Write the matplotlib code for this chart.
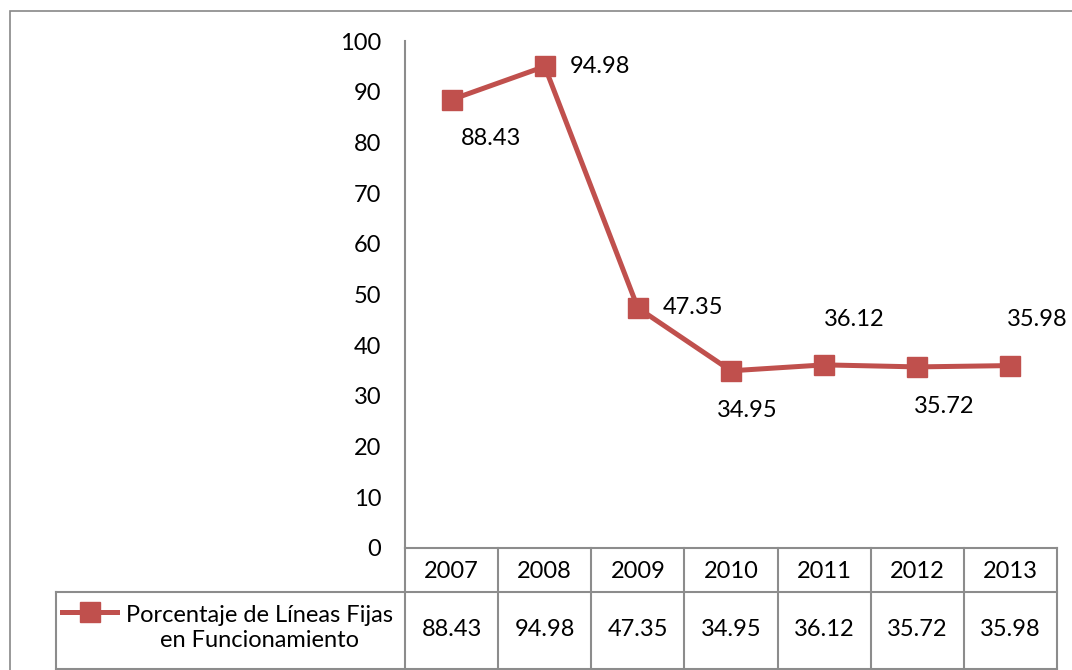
import matplotlib
matplotlib.use("Agg")
import matplotlib.pyplot as plt
from matplotlib.patches import Rectangle
from matplotlib.lines import Line2D

years = ["2007", "2008", "2009", "2010", "2011", "2012", "2013"]
porcentaje = [88.43, 94.98, 47.35, 34.95, 36.12, 35.72, 35.98]
serie = "Porcentaje de Líneas Fijas\nen Funcionamiento"
yticks = [0, 10, 20, 30, 40, 50, 60, 70, 80, 90, 100]

RED = "#C0504D"
GRID = "#8C8C8C"
W, H = 1072, 670
FS = 17

plt.rcParams["font.family"] = ["Lato", "DejaVu Sans"]

def box(l, t, r, b):
    return [l / W, 1 - b / H, (r - l) / W, (b - t) / H]

fig = plt.figure(figsize=(W / 100, H / 100), dpi=100)

# outer chart frame (cropped on right/bottom)
fig.patches.append(Rectangle((10 / W, -0.05), 1.1, 1 - 11 / H + 0.05, transform=fig.transFigure,
                             fill=False, edgecolor="#888888", lw=1.2))

ax = fig.add_axes(box(405, 41, 1057, 548))
x = list(range(len(years)))
ax.plot(x, porcentaje, color=RED, lw=3.6, marker="s", ms=14.5, mec=RED, mfc=RED, zorder=3)
ax.set_xlim(-0.5, len(years) - 0.5)
ax.set_ylim(0, 100)
ax.set_yticks(yticks)
ax.tick_params(axis="y", length=0, pad=17, labelsize=FS)
ax.tick_params(axis="x", length=0, labelbottom=False)
for s in ["top", "right", "bottom"]:
    ax.spines[s].set_visible(False)
ax.spines["left"].set_color(GRID)
ax.spines["left"].set_linewidth(1.5)

# data labels, placed by hand like the original
offsets = [(39, -39), (55, 0), (55, 0), (16, -40), (30, 45), (27, -40), (27, 46)]
for xi, v, (dx, dy) in zip(x, porcentaje, offsets):
    ax.annotate(f"{v:.2f}", (xi, v), xytext=(dx, dy), textcoords="offset pixels",
                ha="center", va="center", fontsize=FS)

# data table below the plot
tab = fig.add_axes(box(405, 548, 1057, 669), sharex=ax)
tab.set_ylim(121, 0)
tab.axis("off")

def fx(px):
    return tab.transData.inverted().transform(fig.transFigure.transform((px / W, 0)))[0]

xl = fx(56)
lk = dict(color=GRID, lw=1.5, clip_on=False)
tab.plot([-0.5, len(years) - 0.5], [0, 0], **lk)
tab.plot([xl, len(years) - 0.5], [44, 44], **lk)
tab.plot([xl, len(years) - 0.5], [121, 121], **lk)
tab.plot([xl, xl], [44, 121], **lk)
for i in range(len(years) + 1):
    tab.plot([i - 0.5, i - 0.5], [0, 121], **lk)
for xi, yr, v in zip(x, years, porcentaje):
    tab.text(xi, 23, yr, ha="center", va="center", fontsize=FS)
    tab.text(xi, 81, f"{v:.2f}", ha="center", va="center", fontsize=FS)

# legend key inside the table
tab.add_line(Line2D([fx(62), fx(117)], [64, 64], color=RED, lw=3.6, clip_on=False))
tab.add_line(Line2D([fx(90)], [64], color=RED, marker="s", ms=14.5, lw=0, clip_on=False))
tab.text(fx(259), 80, serie, ha="center", va="center", multialignment="center",
         fontsize=FS, linespacing=1.25)

fig.savefig("out.png", dpi=100)
